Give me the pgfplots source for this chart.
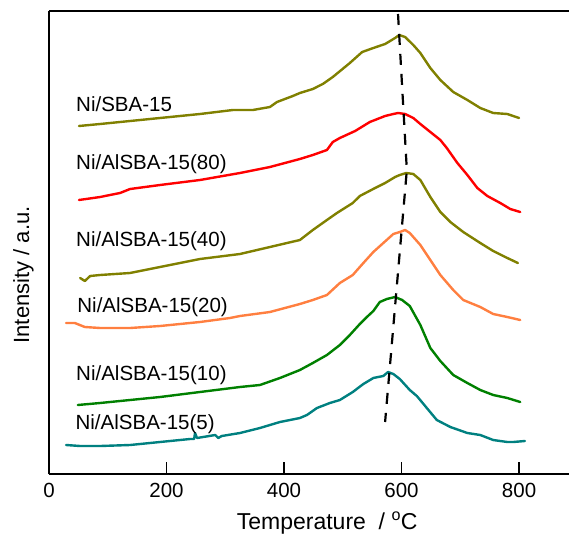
\documentclass[border=0pt]{standalone}
\usepackage{fontspec}
\setmainfont{Liberation Sans}
\usepackage{pgfplots}
\pgfplotsset{compat=1.18}

\definecolor{cOlive}{RGB}{128,128,0}
\definecolor{cRed}{RGB}{255,0,0}
\definecolor{cOrange}{RGB}{255,127,64}
\definecolor{cGreen}{RGB}{0,128,0}
\definecolor{cTeal}{RGB}{0,128,128}

\begin{document}
\begin{tikzpicture}
\begin{axis}[
  scale only axis, width=520pt, height=463pt,
  xmin=0, xmax=885, ymin=0, ymax=463,
  axis x line*=box, axis y line*=left,
  axis line style={-, line width=1.6pt, black},
  xtick={0,200,400,600,800},
  xticklabels={0,200,\raisebox{-4pt}{400},600,800},
  ytick=\empty,
  xtick pos=bottom, tick align=inside,
  major tick length=12pt,
  tick style={line width=1.6pt, black},
  /pgf/number format/assume math mode=true,
  xticklabel style={font=\fontsize{20.5}{24}\selectfont, yshift=-6pt},
  xlabel={Temperature\ \ / \textsuperscript{o}C},
  xlabel style={at={(axis description cs:0.535,0)}, anchor=base, yshift=-55.5pt,
                font=\fontsize{23}{27}\selectfont},
  ylabel={Intensity / a.u.},
  ylabel style={at={(axis description cs:-0.049,0.43)}, anchor=center,
                font=\fontsize{22}{26}\selectfont},
  every axis plot/.append style={line width=2.4pt, line join=round, line cap=round},
  clip=false,
]
% Ni/SBA-15
\addplot[cOlive] coordinates {
 (51,348) (87,350) (138,353) (189,356) (257,360) (313,364) (347,364) (376,367)
 (388,372) (415,378) (427,381) (449,385) (466,390) (483,397) (512,411) (533,422)
 (552,426) (572,430) (589,436) (596,439) (606,437) (620,429) (632,421) (649,406)
 (666,394) (688,382) (712,374) (734,366) (756,361) (780,360) (790,358) (800,356)};
% Ni/AlSBA-15(80)
\addplot[cRed] coordinates {
 (51,274) (87,277) (121,281) (138,285) (189,289) (257,294) (325,301) (376,307)
 (427,315) (449,319) (473,324) (483,332) (495,336) (521,343) (546,352) (572,358)
 (586,360) (594,361) (606,360) (620,356) (632,350) (649,342) (666,334) (677,326)
 (695,311) (712,299) (729,286) (746,278) (768,271) (785,265) (802,262)};
% Ni/AlSBA-15(40)
\addplot[cOlive] coordinates {
 (53,196) (61,193) (70,198) (87,199) (138,201) (189,207) (257,215) (325,220)
 (376,227) (427,234) (449,244) (473,254) (490,261) (517,271) (529,278) (555,286)
 (572,291) (589,297) (597,299) (608,301) (620,300) (632,294) (649,277) (666,262)
 (683,252) (705,242) (734,231) (756,223) (780,216) (798,211)};
% Ni/AlSBA-15(20)
\addplot[cOrange] coordinates {
 (29,151) (44,151) (61,147) (87,146) (138,146) (189,148) (257,152) (308,156)
 (325,158) (376,162) (427,170) (449,174) (473,179) (495,191) (517,199) (535,211)
 (552,222) (569,231) (586,240) (597,242) (606,244) (614,241) (632,229) (649,214)
 (666,199) (688,184) (705,174) (734,167) (756,160) (780,157) (802,154)};
% Ni/AlSBA-15(10)
\addplot[cGreen] coordinates {
 (49,69) (87,71) (138,74) (189,77) (257,82) (325,87) (359,89) (393,96)
 (427,104) (449,111) (473,119) (495,129) (512,139) (529,150) (541,157) (552,163)
 (563,172) (575,175) (589,177) (601,174) (614,168) (632,149) (649,126) (666,113)
 (688,99) (712,91) (734,84) (756,79) (780,76) (802,72)};
% Ni/AlSBA-15(5)
\addplot[cTeal] coordinates {
 (29,29) (53,28) (87,28) (138,29) (189,32) (240,35) (247,35) (248.5,41) (252,36)
 (283,39) (288,36) (294,38) (325,41) (359,46) (393,52) (427,56) (439,59) (456,66)
 (478,71) (495,74) (517,82) (535,90) (552,96) (569,98) (577,102) (586,100)
 (597,95) (614,84) (626,78) (643,66) (660,54) (683,47) (712,41) (734,39)
 (756,34) (780,32) (790,32) (810,33)};
% shift of the reduction maximum
\addplot[black, line width=2.2pt, line cap=butt, dash pattern=on 11pt off 9pt]
 coordinates {(594,460) (609,304) (572,52)};

\begin{scope}[every node/.style={anchor=base west, inner sep=0pt,
    font=\fontsize{20.5}{24}\selectfont}]
\node at (axis cs:46,362.5) {Ni/SBA-15};
\node at (axis cs:46,305) {Ni/AlSBA-15(80)};
\node at (axis cs:46,228) {Ni/AlSBA-15(40)};
\node at (axis cs:48,162) {Ni/AlSBA-15(20)};
\node at (axis cs:46,94) {Ni/AlSBA-15(10)};
\node at (axis cs:45,45) {Ni/AlSBA-15(5)};
\end{scope}
\end{axis}
\pgfresetboundingbox
\path ([xshift=-49pt,yshift=-62pt]current axis.south west)
  rectangle ([yshift=11pt]current axis.north east);
\end{tikzpicture}
\end{document}
